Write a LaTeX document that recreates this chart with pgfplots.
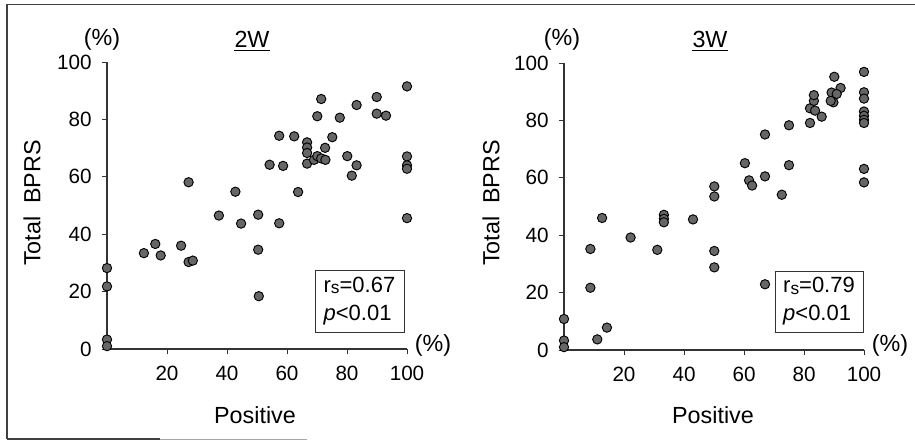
\documentclass[border=0pt]{standalone}
\usepackage{pgfplots}
\pgfplotsset{compat=1.18}
\usepackage{fontspec}
\setmainfont{Liberation Sans}
\begin{document}
\begin{tikzpicture}[x=1pt,y=1pt]
\useasboundingbox (0,0) rectangle (686.25,330);
\draw[black!75, line width=1pt] (5.25,0.75) -- (5.25,326.5) -- (686.25,326.5);
\draw[black!75, line width=0.9pt] (5.25,0.75) -- (120,0.75);
\draw[black!35, line width=0.7pt] (120,0.75) -- (230,0.75);
\pgfplotsset{
  myax/.style={
    scale only axis, width=225pt, height=215.25pt,
    xmin=0, xmax=100, ymin=0, ymax=100,
    axis lines=left, axis line style={-, black!80, line width=0.8pt},
    xtick={20,40,60,80,100}, ytick={0,20,40,60,80,100},
    tick align=outside, major tick length=4pt,
    tick style={black!80, line width=0.7pt},
    tick label style={font=\fontsize{15.5}{17}\selectfont},
    /pgf/number format/assume math mode=true,
    xticklabel style={yshift=-5pt},
    yticklabel style={xshift=-4pt},
    clip=false,
  },
  dots/.style={only marks, mark=*, mark size=3.5pt,
    mark options={fill=black!60, draw=black, line width=0.7pt}},
}
% ---------- 2W ----------
\begin{axis}[myax, at={(80.25pt,68.25pt)}, anchor=south west]
\addplot[dots] coordinates {
(0,28.2) (0,21.8) (0,3.3) (0,1)
(12.3,33.4) (16.1,36.6) (17.9,32.6) (24.7,36.0) (27.2,58.1) (27.2,30.3) (28.6,30.8)
(37.3,46.5) (42.8,54.8) (44.7,43.7) (50.4,46.8) (50.4,34.6) (50.6,18.4)
(54.2,64.2) (57.4,74.3) (57.4,43.8) (58.7,63.8) (62.4,74.1) (63.7,54.7)
(66.7,72) (66.7,70.2) (66.7,68.3) (66.7,64.6) (69,65.9) (70.1,67.2) (71.4,66.4) (72.8,65.9) (72.7,70.1)
(70.1,81.1) (71.4,87.1) (75.1,73.8) (77.6,80.6) (80.1,67.2) (81.6,60.4) (83.2,64.0) (83.2,85.0)
(89.9,87.8) (89.9,82.0) (93.0,81.3)
(100,91.5) (100,67.1) (100,64.0) (100,62.8) (100,45.6)
};
\end{axis}
% ---------- 3W ----------
\begin{axis}[myax, at={(423pt,67.5pt)}, anchor=south west]
\addplot[dots] coordinates {
(0,10.8) (0,3.3) (0,1)
(8.8,35.2) (8.8,21.7) (11.1,3.7) (12.7,46.0) (14.3,7.8)
(22.2,39.2) (31.1,34.9) (33.3,47.1) (33.3,45.7) (33.3,44.5) (43.0,45.5)
(50.1,57.0) (50.1,53.5) (50.1,34.5) (50.1,28.8)
(60.3,65.1) (61.7,59.1) (62.7,57.3) (67,75.1) (67,60.5) (67,22.9) (72.6,54.1)
(75,78.3) (75,64.4)
(82,79.1) (82,84.2) (83.7,83.4) (83.3,86.8) (83.3,88.8) (85.9,81.3)
(90.1,95.2) (92.2,91.3) (89.2,89.7) (90.9,89.2) (89.8,86.3) (88.9,86.8)
(100,96.9) (100,89.8) (100,87.6) (100,83.1) (100,81.6) (100,80.2) (100,79.1) (100,63.1) (100,58.4)
};
\end{axis}
% ---------- texts ----------
\tikzset{lab/.style={font=\fontsize{17.5}{20}\selectfont, inner sep=0pt}}
\node[lab] at (76.5,300.75) {(\%)};
\node[lab] at (421.5,300.75) {(\%)};
\node[lab] (t2) at (189,300.75) {2W};
\draw[line width=0.8pt] ([yshift=-2.5pt]t2.south west) -- ([yshift=-2.5pt]t2.south east);
\node[lab] (t3) at (532.5,300.75) {3W};
\draw[line width=0.8pt] ([yshift=-2.5pt]t3.south west) -- ([yshift=-2.5pt]t3.south east);
\node[lab] at (324.75,71.25) {(\%)};
\node[lab] at (667.5,71.25) {(\%)};
\node[lab] at (191.25,18.75) {Positive};
\node[lab] at (534.75,18.75) {Positive};
\node[lab, rotate=90] at (24,177.75) {Total\ \ BPRS};
\node[lab, rotate=90] at (368.25,177.75) {Total\ \ BPRS};
\draw[black!80, line width=0.6pt] (236.25,81) rectangle (303,127.5);
\node[lab, align=left, font=\fontsize{16.5}{21}\selectfont] at (269.6,104.25) {r\raisebox{-0.1ex}{\fontsize{13}{14}\selectfont s}=0.67\\\textit{p}<0.01};
\draw[black!80, line width=0.6pt] (581.25,81) rectangle (647.25,126.75);
\node[lab, align=left, font=\fontsize{16.5}{21}\selectfont] at (614.25,103.9) {r\raisebox{-0.1ex}{\fontsize{13}{14}\selectfont s}=0.79\\\textit{p}<0.01};
\end{tikzpicture}
\end{document}
